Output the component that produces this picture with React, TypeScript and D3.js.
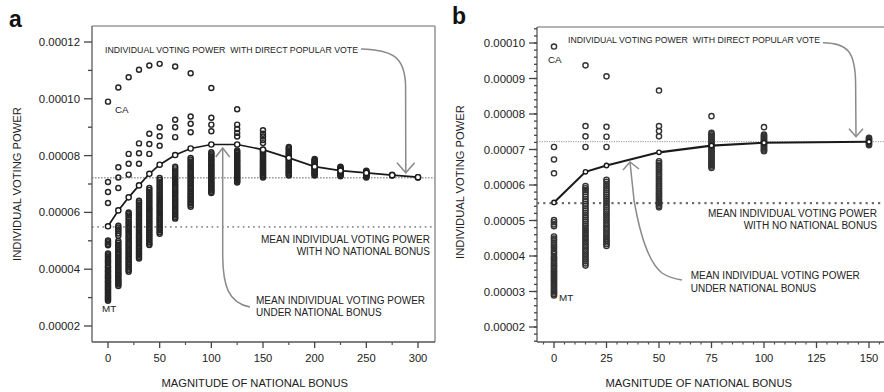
import React from "react";
import * as d3 from "d3";

// Values are in units of 1e-5 (individual voting power).
const SCALE = 1e-5;

// Bonus 0 (plain Electoral College) — shared by both panels.
const noBonus = [9.9, 7.07, 6.72, 6.33, 5.01, 4.95, 4.89, 4.84, 4.55, 4.49, 4.44, 4.37, 4.31, 4.26, 4.21, 4.14, 4.09, 4.05, 3.98, 3.94, 3.9, 3.85, 3.8, 3.76, 3.71, 3.68, 3.63, 3.58, 3.55, 3.51, 3.46, 3.43, 3.38, 3.35, 3.3, 3.27, 3.22, 3.18, 3.14, 3.09, 3.05, 3.01, 2.97, 2.93, 2.89];

// Panel a: state voting power at each bonus size
const aBonus10 = [10.4, 7.59, 7.23, 6.86, 5.53, 5.47, 5.4, 5.34, 5.26, 5.18, 4.99, 4.93, 4.86, 4.8, 4.73, 4.68, 4.61, 4.55, 4.49, 4.43, 4.38, 4.31, 4.26, 4.2, 4.14, 4.09, 4.03, 3.98, 3.92, 3.87, 3.81, 3.77, 3.71, 3.66, 3.61, 3.56, 3.51, 3.46, 3.41];
const aBonus20 = [10.76, 8.06, 7.71, 7.33, 6.0, 5.95, 5.89, 5.81, 5.74, 5.66, 5.6, 5.53, 5.47, 5.41, 5.34, 5.28, 5.21, 5.15, 5.09, 5.02, 4.96, 4.9, 4.84, 4.78, 4.72, 4.66, 4.6, 4.54, 4.48, 4.42, 4.37, 4.31, 4.25, 4.19, 4.14, 4.08, 4.02, 3.97, 3.91];
const aBonus30 = [11.02, 8.43, 8.08, 7.71, 6.41, 6.35, 6.28, 6.21, 6.14, 6.08, 6.01, 5.94, 5.88, 5.81, 5.75, 5.68, 5.62, 5.55, 5.49, 5.43, 5.37, 5.3, 5.24, 5.18, 5.12, 5.06, 5.0, 4.94, 4.88, 4.82, 4.76, 4.71, 4.65, 4.59, 4.54, 4.48, 4.43, 4.38];
const aBonus40 = [11.17, 8.77, 8.41, 8.06, 6.86, 6.79, 6.71, 6.64, 6.57, 6.5, 6.43, 6.36, 6.29, 6.22, 6.15, 6.09, 6.02, 5.95, 5.89, 5.82, 5.76, 5.69, 5.63, 5.57, 5.5, 5.44, 5.38, 5.32, 5.26, 5.2, 5.14, 5.08, 5.02, 4.96, 4.9, 4.85];
const aBonus50 = [11.23, 9.0, 8.68, 8.35, 7.21, 7.14, 7.06, 6.99, 6.92, 6.85, 6.78, 6.71, 6.64, 6.57, 6.5, 6.44, 6.37, 6.3, 6.24, 6.17, 6.11, 6.04, 5.98, 5.92, 5.85, 5.79, 5.73, 5.67, 5.61, 5.55, 5.49, 5.43, 5.37, 5.31, 5.25];
const aBonus65 = [11.14, 9.26, 9.0, 8.65, 7.61, 7.55, 7.48, 7.41, 7.34, 7.27, 7.2, 7.14, 7.07, 7.0, 6.94, 6.87, 6.81, 6.74, 6.68, 6.62, 6.55, 6.49, 6.43, 6.37, 6.31, 6.25, 6.19, 6.13, 6.07, 6.01, 5.95, 5.89, 5.83, 5.78];
const aBonus80 = [10.9, 9.38, 9.12, 8.82, 7.92, 7.86, 7.79, 7.73, 7.66, 7.6, 7.54, 7.47, 7.41, 7.35, 7.29, 7.23, 7.17, 7.11, 7.05, 6.99, 6.93, 6.88, 6.82, 6.76, 6.7, 6.65, 6.59, 6.54, 6.48, 6.43, 6.37, 6.32, 6.26, 6.2];
const aBonus100 = [10.38, 9.33, 9.09, 8.86, 8.12, 8.07, 8.01, 7.96, 7.9, 7.85, 7.8, 7.74, 7.69, 7.64, 7.59, 7.54, 7.49, 7.44, 7.39, 7.34, 7.29, 7.24, 7.19, 7.14, 7.09, 7.04, 7.0, 6.95, 6.9, 6.86, 6.81, 6.77, 6.72, 6.68];
const aBonus125 = [9.63, 9.09, 8.94, 8.8, 8.67, 8.18, 8.13, 8.09, 8.04, 8.0, 7.95, 7.91, 7.86, 7.82, 7.78, 7.74, 7.69, 7.65, 7.61, 7.57, 7.53, 7.49, 7.45, 7.41, 7.37, 7.33, 7.29, 7.25, 7.21, 7.17, 7.13, 7.09, 7.05];
const aBonus150 = [8.89, 8.77, 8.67, 8.55, 8.44, 8.2, 8.16, 8.12, 8.08, 8.04, 8.0, 7.96, 7.92, 7.88, 7.84, 7.8, 7.77, 7.73, 7.69, 7.65, 7.62, 7.58, 7.54, 7.51, 7.47, 7.44, 7.4, 7.37, 7.33, 7.3, 7.26, 7.23];
const aBonus175 = [8.3, 8.26, 8.22, 8.17, 8.13, 8.09, 8.05, 8.01, 7.97, 7.93, 7.89, 7.85, 7.81, 7.77, 7.73, 7.69, 7.66, 7.62, 7.58, 7.55, 7.51, 7.47, 7.44, 7.4, 7.37, 7.33, 7.3];
const aBonus200 = [7.88, 7.85, 7.82, 7.79, 7.76, 7.73, 7.7, 7.67, 7.64, 7.61, 7.58, 7.55, 7.52, 7.49, 7.46, 7.43, 7.41, 7.38, 7.35, 7.32, 7.3];
const aBonus225 = [7.61, 7.58, 7.56, 7.53, 7.51, 7.48, 7.46, 7.43, 7.41, 7.39, 7.36, 7.34, 7.32, 7.3, 7.27];
const aBonus250 = [7.47, 7.45, 7.43, 7.41, 7.39, 7.37, 7.35, 7.33, 7.31, 7.29, 7.27, 7.25, 7.23];
const aBonus275 = [7.33, 7.31, 7.3];
const aBonus300 = [7.24, 7.23];

const aBonusSizes = [0, 10, 20, 30, 40, 50, 65, 80, 100, 125, 150, 175, 200, 225, 250, 275, 300];
const aStatePower = [noBonus, aBonus10, aBonus20, aBonus30, aBonus40, aBonus50, aBonus65, aBonus80, aBonus100, aBonus125, aBonus150, aBonus175, aBonus200, aBonus225, aBonus250, aBonus275, aBonus300];
const aMeanPower = [5.51, 6.07, 6.53, 6.95, 7.36, 7.68, 8.02, 8.25, 8.39, 8.39, 8.21, 7.92, 7.61, 7.47, 7.39, 7.31, 7.24];

// Panel b
const bBonus15 = [9.37, 7.66, 7.37, 7.07, 5.97, 5.91, 5.86, 5.8, 5.74, 5.67, 5.6, 5.54, 5.47, 5.41, 5.34, 5.28, 5.22, 5.15, 5.09, 5.03, 4.97, 4.91, 4.85, 4.79, 4.73, 4.68, 4.62, 4.57, 4.51, 4.46, 4.4, 4.35, 4.29, 4.24, 4.18, 4.13, 4.07, 4.02, 3.96, 3.91, 3.85, 3.79, 3.73];
const bBonus25 = [9.06, 7.64, 7.36, 7.07, 6.15, 6.09, 6.03, 5.97, 5.91, 5.85, 5.79, 5.73, 5.67, 5.61, 5.55, 5.49, 5.43, 5.37, 5.31, 5.25, 5.19, 5.14, 5.08, 5.02, 4.97, 4.91, 4.86, 4.8, 4.75, 4.69, 4.64, 4.58, 4.53, 4.48, 4.43, 4.38, 4.33, 4.28];
const bBonus50 = [8.66, 7.66, 7.52, 7.37, 6.67, 6.62, 6.57, 6.52, 6.47, 6.42, 6.37, 6.32, 6.27, 6.22, 6.17, 6.12, 6.07, 6.02, 5.97, 5.93, 5.88, 5.84, 5.79, 5.75, 5.7, 5.66, 5.61, 5.57, 5.53, 5.49, 5.45, 5.41, 5.37];
const bBonus75 = [7.94, 7.47, 7.43, 7.39, 7.35, 7.31, 7.27, 7.23, 7.19, 7.15, 7.11, 7.07, 7.03, 6.99, 6.95, 6.91, 6.87, 6.83, 6.79, 6.75, 6.71, 6.67, 6.63, 6.59, 6.56, 6.52, 6.48];
const bBonus100 = [7.63, 7.42, 7.39, 7.36, 7.33, 7.3, 7.27, 7.24, 7.21, 7.18, 7.15, 7.12, 7.09, 7.06, 7.03, 7.0, 6.97, 6.95];
const bBonus150 = [7.33, 7.3, 7.27, 7.24, 7.21, 7.18, 7.15, 7.12];

const bBonusSizes = [0, 15, 25, 50, 75, 100, 150];
const bStatePower = [noBonus, bBonus15, bBonus25, bBonus50, bBonus75, bBonus100, bBonus150];
const bMeanPower = [5.51, 6.37, 6.55, 6.92, 7.11, 7.19, 7.22];

// Reference levels
const directVotePower = 7.22;
const noBonusMeanPower = 5.49;

const aXTicks = [0, 50, 100, 150, 200, 250, 300];
const aYTicks = [2, 4, 6, 8, 10, 12];
const bXTicks = [0, 25, 50, 75, 100, 125, 150];
const bYTicks = [2, 3, 4, 5, 6, 7, 8, 9, 10];

const FONT = "'Liberation Sans', Arial, Helvetica, sans-serif";
const fmt = (v: number) => (v * SCALE).toFixed(5);

const xA = d3.scaleLinear().domain([0, 300]).range([108, 418]);
const yA = d3.scaleLinear().domain([2, 12]).range([326, 42]);
const xB = d3.scaleLinear().domain([0, 150]).range([554, 869]);
const yB = d3.scaleLinear().domain([2, 10]).range([327, 43]);

type Frame = { left: number; right: number; top: number; bottom: number };

function Axes({ x, y, frame, xTicks, yTicks, xMinor, yMinor, minorLen, xMinorLen }: any) {
  const f: Frame = frame;
  return (
    <g fontFamily={FONT} fill="#222">
      <line x1={f.left} x2={f.right} y1={f.top} y2={f.top} stroke="#9a9a9a" strokeWidth={1.6} />
      <line x1={f.right} x2={f.right} y1={f.top} y2={f.bottom} stroke="#9a9a9a" strokeWidth={1.6} />
      <line x1={f.left} x2={f.left} y1={f.top} y2={f.bottom} stroke="#666" strokeWidth={1.4} />
      <line x1={f.left} x2={f.right} y1={f.bottom} y2={f.bottom} stroke="#555" strokeWidth={1.4} />
      {yMinor.map((t: number) => (
        <line key={"ym" + t} x1={f.left - minorLen} x2={f.left} y1={y(t)} y2={y(t)} stroke="#444" strokeWidth={1.3} />
      ))}
      {xMinor.map((t: number) => (
        <line key={"xm" + t} x1={x(t)} x2={x(t)} y1={f.bottom} y2={f.bottom + xMinorLen} stroke="#555" strokeWidth={1.2} />
      ))}
      {yTicks.map((t: number) => (
        <g key={"y" + t}>
          <line x1={f.left - 8} x2={f.left} y1={y(t)} y2={y(t)} stroke="#444" strokeWidth={1.3} />
          <text x={f.left - 12} y={y(t) + 4} textAnchor="end" fontSize={11.4}>
            {fmt(t)}
          </text>
        </g>
      ))}
      {xTicks.map((t: number) => (
        <g key={"x" + t}>
          <line x1={x(t)} x2={x(t)} y1={f.bottom} y2={f.bottom + 6} stroke="#444" strokeWidth={1.3} />
          <text x={x(t)} y={f.bottom + 20} textAnchor="middle" fontSize={11.2}>
            {t}
          </text>
        </g>
      ))}
    </g>
  );
}

function StateColumns({ x, y, sizes, power, r, stroke, width }: any) {
  return (
    <g fill="none" stroke={stroke} strokeWidth={width}>
      {sizes.map((b: number, i: number) =>
        power[i].map((v: number, j: number) => <circle key={b + "-" + j} cx={x(b)} cy={y(v)} r={r} />)
      )}
    </g>
  );
}

function MeanLine({ x, y, sizes, mean, r, width }: any) {
  const line = d3
    .line<number>()
    .x((_, i) => x(sizes[i]))
    .y((d) => y(d));
  return (
    <g>
      <path d={line(mean) || ""} fill="none" stroke="#1a1a1a" strokeWidth={width} />
      {mean.map((v: number, i: number) => (
        <circle key={i} cx={x(sizes[i])} cy={y(v)} r={r} fill="#fff" stroke="#1a1a1a" strokeWidth={1.4} />
      ))}
    </g>
  );
}

export default function App() {
  const fA: Frame = { left: 92, right: 435, top: 26, bottom: 342 };
  const fB: Frame = { left: 537, right: 890, top: 27, bottom: 342 };
  const yMinorA = d3.range(2, 13, 1).filter((t) => t % 2 !== 0);
  const xMinorA = d3.range(25, 300, 50);
  const yMinorB = d3.range(1.6, 10.5, 0.2).map((t) => +t.toFixed(1));
  const xMinorB = d3.range(-5, 156, 5).filter((t) => t % 25 !== 0);

  const aDirectY = yA(directVotePower);
  const bDirectY = yB(directVotePower);

  return (
    <svg
      width={884}
      height={392}
      viewBox="0 0 884 392"
      style={{ position: "absolute", left: 0, top: 0, background: "#fff" }}
      fontFamily={FONT}
    >
      <rect width={884} height={392} fill="#fff" />

      {/* ---------- Panel a ---------- */}
      <text x={9} y={27} fontSize={23} fontWeight="bold" fill="#111">a</text>
      <line x1={fA.left} x2={fA.right} y1={aDirectY} y2={aDirectY} stroke="#9c9c9c" strokeWidth={1.3} strokeDasharray="1.6 1.4" />
      <line x1={fA.left} x2={fA.right} y1={yA(noBonusMeanPower)} y2={yA(noBonusMeanPower)} stroke="#8c8c8c" strokeWidth={1.6} strokeDasharray="1.6 3.6" />
      <StateColumns x={xA} y={yA} sizes={aBonusSizes} power={aStatePower} r={2.5} stroke="#262626" width={1.45} />
      <MeanLine x={xA} y={yA} sizes={aBonusSizes} mean={aMeanPower} r={2.6} width={1.7} />
      <Axes x={xA} y={yA} frame={fA} xTicks={aXTicks} yTicks={aYTicks} xMinor={xMinorA} yMinor={yMinorA} minorLen={4} xMinorLen={3} />

      <text x={105} y={52.5} fontSize={8.7} fill="#222" textLength={253} lengthAdjust="spacingAndGlyphs" style={{ whiteSpace: "pre" }}>
        INDIVIDUAL VOTING POWER  WITH DIRECT POPULAR VOTE
      </text>
      <path d={`M361,49 C392,50 405,56 405.6,86 L405.8,${aDirectY - 5}`} fill="none" stroke="#8a8a8a" strokeWidth={1.5} />
      <path d={`M397,${aDirectY - 15} L405.8,${aDirectY - 5} L414.6,${aDirectY - 15}`} fill="none" stroke="#8a8a8a" strokeWidth={1.5} />

      <path d="M222.7,148 L222.7,256 C223,285 228,303 250,307" fill="none" stroke="#8a8a8a" strokeWidth={1.5} />
      <path d="M215.7,157 L222.7,148 L229.7,157" fill="none" stroke="#8a8a8a" strokeWidth={1.5} />

      <text x={115} y={113} fontSize={9.8} fill="#222">CA</text>
      <text x={102} y={312} fontSize={9.9} fill="#222">MT</text>

      <g fontSize={10} fill="#222" textAnchor="end">
        <text x={430} y={243.3}>MEAN INDIVIDUAL VOTING POWER</text>
        <text x={430} y={255}>WITH NO NATIONAL BONUS</text>
      </g>
      <g fontSize={10} fill="#222">
        <text x={256} y={304.3}>MEAN INDIVIDUAL VOTING POWER</text>
        <text x={256} y={316}>UNDER NATIONAL BONUS</text>
      </g>

      <text x={254.7} y={386.7} fontSize={11.2} textAnchor="middle" fill="#222">MAGNITUDE OF NATIONAL BONUS</text>
      <text transform="translate(21,184) rotate(-90)" fontSize={11.2} textAnchor="middle" fill="#222">INDIVIDUAL VOTING POWER</text>

      {/* ---------- Panel b ---------- */}
      <text x={452} y={24} fontSize={23} fontWeight="bold" fill="#111">b</text>
      <line x1={fB.left} x2={fB.right} y1={bDirectY} y2={bDirectY} stroke="#a8a8a8" strokeWidth={1.3} strokeDasharray="1.2 1.2" />
      <line x1={fB.left} x2={fB.right} y1={yB(noBonusMeanPower)} y2={yB(noBonusMeanPower)} stroke="#6e6e6e" strokeWidth={2.4} strokeDasharray="2.2 4" />
      <StateColumns x={xB} y={yB} sizes={bBonusSizes} power={bStatePower} r={2.6} stroke="#333" width={1.4} />
      <MeanLine x={xB} y={yB} sizes={bBonusSizes} mean={bMeanPower} r={2.2} width={2.1} />
      <Axes x={xB} y={yB} frame={fB} xTicks={bXTicks} yTicks={bYTicks} xMinor={xMinorB} yMinor={yMinorB} minorLen={3} xMinorLen={2.5} />

      <text x={568} y={43} fontSize={8.7} fill="#222" textLength={252} lengthAdjust="spacingAndGlyphs" style={{ whiteSpace: "pre" }}>
        INDIVIDUAL VOTING POWER  WITH DIRECT POPULAR VOTE
      </text>
      <path d={`M823,42.7 C848,43 855,52 855.6,82 L856,${bDirectY - 5}`} fill="none" stroke="#8a8a8a" strokeWidth={1.5} />
      <path d={`M849,${bDirectY - 13} L856,${bDirectY - 5} L863,${bDirectY - 13}`} fill="none" stroke="#8a8a8a" strokeWidth={1.5} />

      <path d="M630,162 L634,200 C640,235 648,262 662,273 C668,277 675,279 682,280" fill="none" stroke="#8a8a8a" strokeWidth={1.5} />
      <path d="M623,170 L630,162 L639,169" fill="none" stroke="#8a8a8a" strokeWidth={1.5} />

      <text x={548} y={63} fontSize={9.8} fill="#222">CA</text>
      <text x={559} y={301} fontSize={9.9} fill="#222">MT</text>

      <g fontSize={10} fill="#222" textAnchor="end">
        <text x={877} y={217.3}>MEAN INDIVIDUAL VOTING POWER</text>
        <text x={877} y={229}>WITH NO NATIONAL BONUS</text>
      </g>
      <g fontSize={10} fill="#222">
        <text x={690.7} y={279.3}>MEAN INDIVIDUAL VOTING POWER</text>
        <text x={690.7} y={291.7}>UNDER NATIONAL BONUS</text>
      </g>

      <text x={698.7} y={386.7} fontSize={11.2} textAnchor="middle" fill="#222">MAGNITUDE OF NATIONAL BONUS</text>
      <text transform="translate(464,182) rotate(-90)" fontSize={11.2} textAnchor="middle" fill="#222">INDIVIDUAL VOTING POWER</text>
    </svg>
  );
}
